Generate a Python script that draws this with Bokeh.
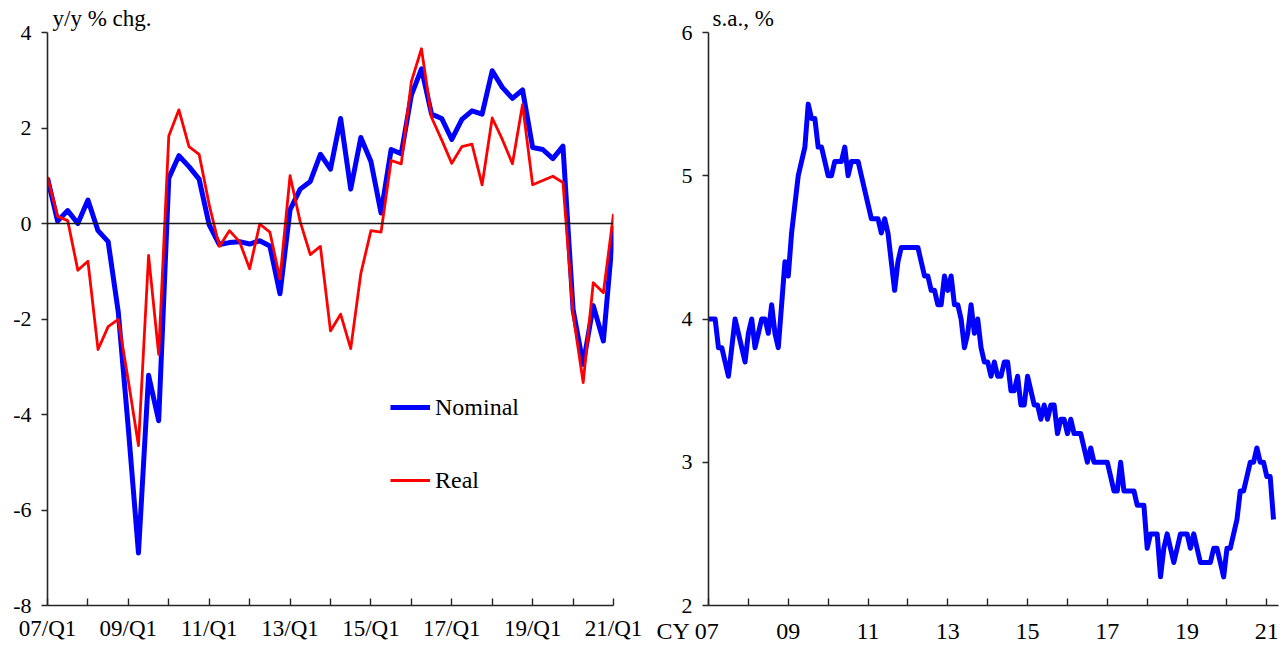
from bokeh.plotting import figure
from bokeh.models import Range1d, FixedTicker, Span, Legend, LegendItem
from bokeh.layouts import row
from bokeh.embed import file_html
from bokeh.resources import INLINE

FONT = "Liberation Serif"

# ---- Left panel: wages, y/y % chg., quarterly 07/Q1 - 21/Q1 ----
quarters = [f"{y:02d}/Q{q}" for y in range(7, 22) for q in range(1, 5)][:57]
nominal = [0.95, 0.05, 0.27, 0.0, 0.49, -0.15, -0.38, -1.85, -4.3, -6.9,
           -3.18, -4.13, 0.95, 1.42, 1.19, 0.93, -0.03, -0.44, -0.40, -0.38,
           -0.43, -0.36, -0.47, -1.47, 0.29, 0.72, 0.88, 1.45, 1.14, 2.2,
           0.72, 1.8, 1.3, 0.22, 1.55, 1.46, 2.69, 3.24, 2.29, 2.2,
           1.76, 2.18, 2.36, 2.29, 3.2, 2.85, 2.62, 2.8, 1.59, 1.55,
           1.36, 1.62, -1.8, -2.95, -1.72, -2.46, -0.05]
real = [0.97, 0.15, 0.06, -0.98, -0.79, -2.64, -2.16, -2.01, -3.3, -4.65,
        -0.67, -2.74, 1.83, 2.38, 1.61, 1.45, 0.39, -0.48, -0.15, -0.38,
        -0.95, -0.01, -0.18, -1.16, 1.0, 0.04, -0.65, -0.48, -2.25, -1.9,
        -2.62, -1.05, -0.15, -0.18, 1.32, 1.25, 2.97, 3.66, 2.22, 1.75,
        1.26, 1.61, 1.66, 0.81, 2.21, 1.76, 1.25, 2.49, 0.81, 0.9,
        0.99, 0.86, -1.9, -3.33, -1.24, -1.45, 0.2]
left_ticks = list(range(0, 57, 4))
left_tick_labels = {t: (quarters[t] if (t // 4) % 2 == 0 else "") for t in left_ticks}
left_yticks = [-8, -6, -4, -2, 0, 2, 4]
left_ytick_labels = {v: str(v) for v in left_yticks}

# ---- Right panel: unemployment rate, s.a., %, monthly Jan 2007 - Mar 2021 ----
unemp = [
    4.0, 4.0, 4.0, 3.8, 3.8, 3.7, 3.6, 3.8, 4.0, 3.9, 3.8, 3.7,  # 2007
    3.9, 4.0, 3.8, 3.9, 4.0, 4.0, 3.9, 4.1, 3.9, 3.8, 4.1, 4.4,  # 2008
    4.3, 4.6, 4.8, 5.0, 5.1, 5.2, 5.5, 5.4, 5.4, 5.2, 5.2, 5.1,  # 2009
    5.0, 5.0, 5.1, 5.1, 5.1, 5.2, 5.0, 5.1, 5.1, 5.1, 5.0, 4.9,  # 2010
    4.8, 4.7, 4.7, 4.7, 4.6, 4.7, 4.6, 4.4, 4.2, 4.4, 4.5, 4.5,  # 2011
    4.5, 4.5, 4.5, 4.5, 4.4, 4.3, 4.3, 4.2, 4.2, 4.1, 4.1, 4.3,  # 2012
    4.2, 4.3, 4.1, 4.1, 4.0, 3.8, 3.9, 4.1, 3.9, 4.0, 3.8, 3.7,  # 2013
    3.7, 3.6, 3.7, 3.6, 3.6, 3.7, 3.7, 3.5, 3.5, 3.6, 3.4, 3.4,  # 2014
    3.6, 3.5, 3.4, 3.4, 3.3, 3.4, 3.3, 3.4, 3.4, 3.2, 3.3, 3.3,  # 2015
    3.2, 3.3, 3.2, 3.2, 3.2, 3.1, 3.0, 3.1, 3.0, 3.0, 3.0, 3.0,  # 2016
    3.0, 2.9, 2.8, 2.8, 3.0, 2.8, 2.8, 2.8, 2.8, 2.7, 2.7, 2.7,  # 2017
    2.4, 2.5, 2.5, 2.5, 2.2, 2.4, 2.5, 2.4, 2.3, 2.4, 2.5, 2.5,  # 2018
    2.5, 2.4, 2.5, 2.4, 2.3, 2.3, 2.3, 2.3, 2.4, 2.4, 2.3, 2.2,  # 2019
    2.4, 2.4, 2.5, 2.6, 2.8, 2.8, 2.9, 3.0, 3.0, 3.1, 3.0, 3.0,  # 2020
    2.9, 2.9, 2.6,                                               # 2021
]
month_idx = list(range(len(unemp)))
right_ticks = list(range(0, 169, 12))
right_tick_labels = {t: (f"{7 + t // 12:02d}" if (t // 12) % 2 == 0 else "") for t in right_ticks}
# first label carries the "CY" prefix; trailing wide spaces keep "07" centred on its tick
right_tick_labels[0] = "CY 07\u2003\u2002\u2009"


def style(p, xfs, yfs, xstand):
    p.background_fill_color = "white"
    p.border_fill_color = "white"
    p.outline_line_color = None
    p.xgrid.visible = False
    p.ygrid.visible = False
    for ax in (p.xaxis[0], p.yaxis[0]):
        ax.axis_line_color = "#262626"
        ax.axis_line_width = 1.6
        ax.major_tick_line_color = "#262626"
        ax.major_tick_line_width = 1.4
        ax.minor_tick_line_color = None
        ax.major_label_text_font = FONT
        ax.major_label_text_color = "black"
    xa, ya = p.xaxis[0], p.yaxis[0]
    xa.major_tick_in = 7
    xa.major_tick_out = 0
    xa.major_label_standoff = xstand
    xa.major_label_text_font_size = xfs
    ya.major_tick_in = 0
    ya.major_tick_out = 6
    ya.major_label_standoff = 10
    ya.major_label_text_font_size = yfs
    p.title.align = "left"
    p.title.offset = 5
    p.title.standoff = 4
    p.title.text_font = FONT
    p.title.text_font_size = "23px"
    p.title.text_font_style = "normal"
    p.title.text_color = "black"


# Left figure
p1 = figure(width=650, height=651, output_backend="svg", toolbar_location=None,
            title="y/y % chg.",
            x_range=Range1d(0, 56), y_range=Range1d(-8, 4),
            min_border_left=47, min_border_right=37, min_border_top=32, min_border_bottom=44)
style(p1, "23px", "22px", 10)
p1.xaxis[0].ticker = FixedTicker(ticks=left_ticks)
p1.xaxis[0].major_label_overrides = left_tick_labels
p1.yaxis[0].ticker = FixedTicker(ticks=left_yticks)
p1.yaxis[0].major_label_overrides = left_ytick_labels
p1.add_layout(Span(location=0, dimension="width", line_color="#1a1a1a", line_width=1.5))
qx = list(range(len(nominal)))
r_nom = p1.line(qx, nominal, line_color="#0000FF", line_width=5, line_join="round")
r_real = p1.line(qx, real, line_color="#FF0000", line_width=2.8, line_join="round")
legend = Legend(items=[LegendItem(label="Nominal", renderers=[r_nom]),
                       LegendItem(label="Real", renderers=[r_real])],
                location=(343, 110), orientation="vertical",
                glyph_width=40, glyph_height=30, label_height=30, spacing=43,
                label_standoff=5, padding=0, margin=0,
                label_text_font=FONT, label_text_font_size="24px",
                label_text_color="black",
                border_line_color=None, background_fill_alpha=0)
p1.add_layout(legend)

# Right figure
p2 = figure(width=635, height=651, output_backend="svg", toolbar_location=None,
            title="s.a., %",
            x_range=Range1d(0, 171.5), y_range=Range1d(2, 6),
            min_border_left=58, min_border_right=7, min_border_top=32, min_border_bottom=46)
style(p2, "24px", "22px", 12)
p2.title.offset = 4
p2.xaxis[0].ticker = FixedTicker(ticks=right_ticks)
p2.xaxis[0].major_label_overrides = right_tick_labels
p2.yaxis[0].ticker = FixedTicker(ticks=[2, 3, 4, 5, 6])
p2.line(month_idx, unemp, line_color="#0000FF", line_width=5, line_join="round")

layout = row(p1, p2)
open("out.html", "w").write(file_html(layout, INLINE))
